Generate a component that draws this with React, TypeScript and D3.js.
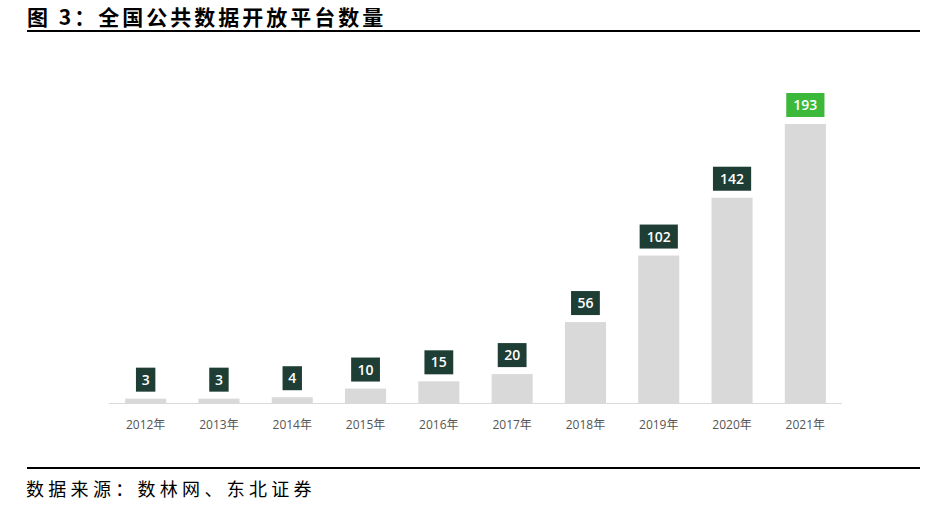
import React from "react";
import * as d3 from "d3";

const years = ["2012年", "2013年", "2014年", "2015年", "2016年", "2017年", "2018年", "2019年", "2020年", "2021年"];
const counts = [3, 3, 4, 10, 15, 20, 56, 102, 142, 193];
const highlightYear = "2021年";

const W = 933;
const H = 513;

export default function App() {
  const x = d3.scaleBand<string>().domain(years).range([109, 842]).paddingInner(0.44).paddingOuter(0.22);
  const y = d3.scaleLinear().domain([0, 193]).range([403, 124]);
  const boxW = (v: number) => 10 + String(v).length * 9.4;
  const boxH = 24;
  return (
    <svg width={W} height={H} style={{ position: "absolute", left: 0, top: 0, background: "#fff" }}>
      <text x={27} y={25} fontFamily="'Noto Sans CJK SC', sans-serif" fontWeight="bold" fontSize={21} letterSpacing={3} fill="#000">
        图 3：全国公共数据开放平台数量
      </text>
      <line x1={27} x2={920} y1={31} y2={31} stroke="#000" strokeWidth={2} />
      <line x1={x.range()[0]} x2={x.range()[1]} y1={y(0) + 0.5} y2={y(0) + 0.5} stroke="#d9d9d9" strokeWidth={1} />
      {years.map((yr, i) => {
        const v = counts[i];
        const bx = x(yr)!;
        const bw = x.bandwidth();
        const top = y(v);
        const cx = bx + bw / 2;
        const w = boxW(v);
        const hl = yr === highlightYear;
        return (
          <g key={yr}>
            <rect x={bx} y={top} width={bw} height={y(0) - top} fill="#d9d9d9" />
            <rect x={cx - w / 2} y={top - 7 - boxH} width={w} height={boxH} fill={hl ? "#3cb93a" : "#1d3d35"} />
            <text x={cx} y={top - 7 - boxH / 2 + 5} textAnchor="middle" fontFamily="'Open Sans', sans-serif" fontWeight={600} fontSize={14} fill="#fff">
              {v}
            </text>
            <text x={cx} y={429} textAnchor="middle" fontFamily="'Open Sans', 'Noto Sans CJK SC', sans-serif" fontSize={12} fill="#555">
              {yr}
            </text>
          </g>
        );
      })}
      <line x1={27} x2={920} y1={468} y2={468} stroke="#000" strokeWidth={2} />
      <text x={26} y={496} fontFamily="'Noto Sans CJK SC', serif" fontSize={18} letterSpacing={4.3} fill="#000">
        数据来源：数林网、东北证券
      </text>
    </svg>
  );
}
